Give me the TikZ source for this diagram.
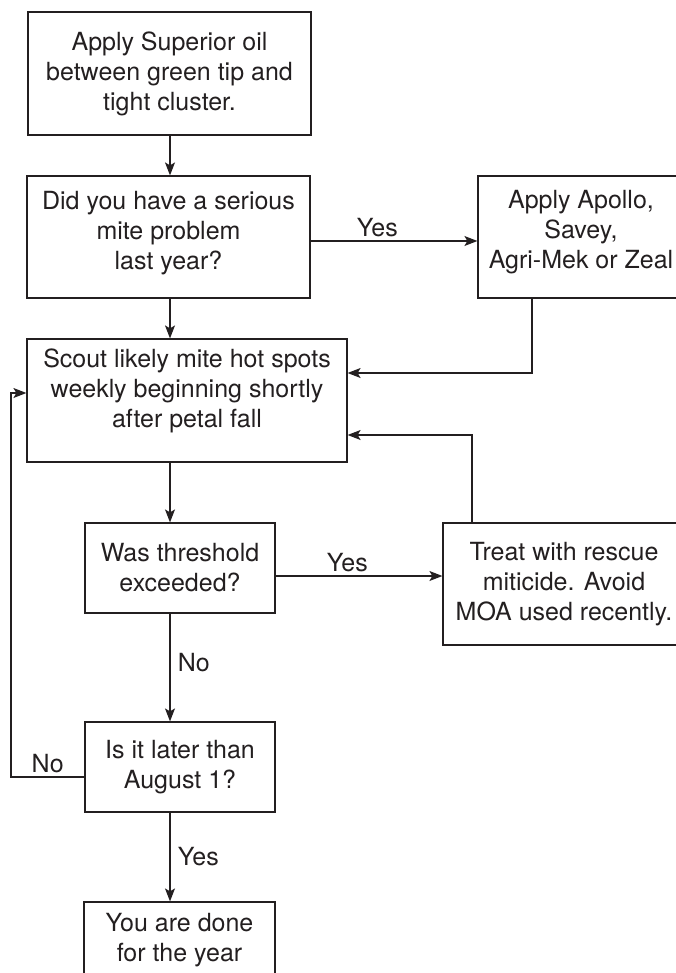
\documentclass[tikz,border=0pt]{standalone}
\usepackage{fontspec}
\setmainfont{TeX Gyre Heros}
\usetikzlibrary{arrows.meta}
\definecolor{ink}{RGB}{35,31,32}
\tikzset{
	stepbox/.style = {draw = ink, text = ink, line width = 1.2pt, align = center, inner sep = 0pt},
	flow/.style = {draw = ink, line width = 1.2pt, -{Stealth[length = 13pt, width = 10pt, inset = 3pt]}},
	lbl/.style = {text = ink}
}
\begin{document}
\begin{tikzpicture} [x = 1pt, y = -1pt, font = \fontsize{25}{30}\selectfont]
	\useasboundingbox (0,0) rectangle (676,973);
	\clip (0,0) rectangle (676,973);
	% boxes
	\node [stepbox, minimum width = 283, minimum height = 123] (oil) at (169.5,73.5) {Apply Superior oil\\between green tip and\\tight cluster.};
	\node [stepbox, minimum width = 283, minimum height = 122, text depth = 14pt] (mite) at (168.5,237) {Did you have a serious\\mite problem\\last year?};
	\node [stepbox, minimum width = 206, minimum height = 122, text depth = 15pt] (apollo) at (581,237) {Apply Apollo,\\Savey,\\Agri-Mek or Zeal};
	\node [stepbox, minimum width = 320, minimum height = 123, text depth = 25pt] (scout) at (187,400.5) {Scout likely mite hot spots\\weekly beginning shortly\\after petal fall};
	\node [stepbox, minimum width = 190, minimum height = 90] (thresh) at (180,568) {Was threshold\\exceeded?};
	\node [stepbox, minimum width = 242, minimum height = 122] (treat) at (564,584) {Treat with rescue\\miticide. Avoid\\MOA used recently.};
	\node [stepbox, minimum width = 190, minimum height = 90] (august) at (180,767) {Is it later than\\August 1?};
	\node [stepbox, minimum width = 191, minimum height = 76] (done) at (179.5,940) {You are done\\for the year};
	% main column
	\coordinate (spine) at (170,0);
	\draw [flow] (oil.south -| spine) -- (mite.north -| spine);
	\draw [flow] (mite.south -| spine) -- (scout.north -| spine);
	\draw [flow] (scout.south -| spine) -- (thresh.north -| spine);
	\draw [flow] (thresh.south -| spine) -- (august.north -| spine) node [lbl, pos = 0.45, right, xshift = 4] {No};
	\draw [flow] (august.south -| spine) -- (done.north -| spine) node [lbl, pos = 0.5, right, xshift = 4] {Yes};
	% side branches
	\draw [flow] (mite.east |- 0,241) -- (apollo.west |- 0,241) node [lbl, pos = 0.4, above] {Yes};
	\draw [flow] (thresh.east |- 0,576) -- (treat.west |- 0,576) node [lbl, pos = 0.43, above] {Yes};
	\draw [flow] (apollo.south -| 532,0) |- (scout.east |- 0,373);
	\draw [flow] (treat.north -| 472,0) |- (scout.east |- 0,435);
	% back to scouting
	\coordinate (loopbot) at (11,777);
	\coordinate (looptop) at (11,393);
	\draw [flow] (august.west |- loopbot) -- (loopbot) node [lbl, midway, above] {No} -- (looptop) -- (looptop -| scout.west);
\end{tikzpicture}
\end{document}
